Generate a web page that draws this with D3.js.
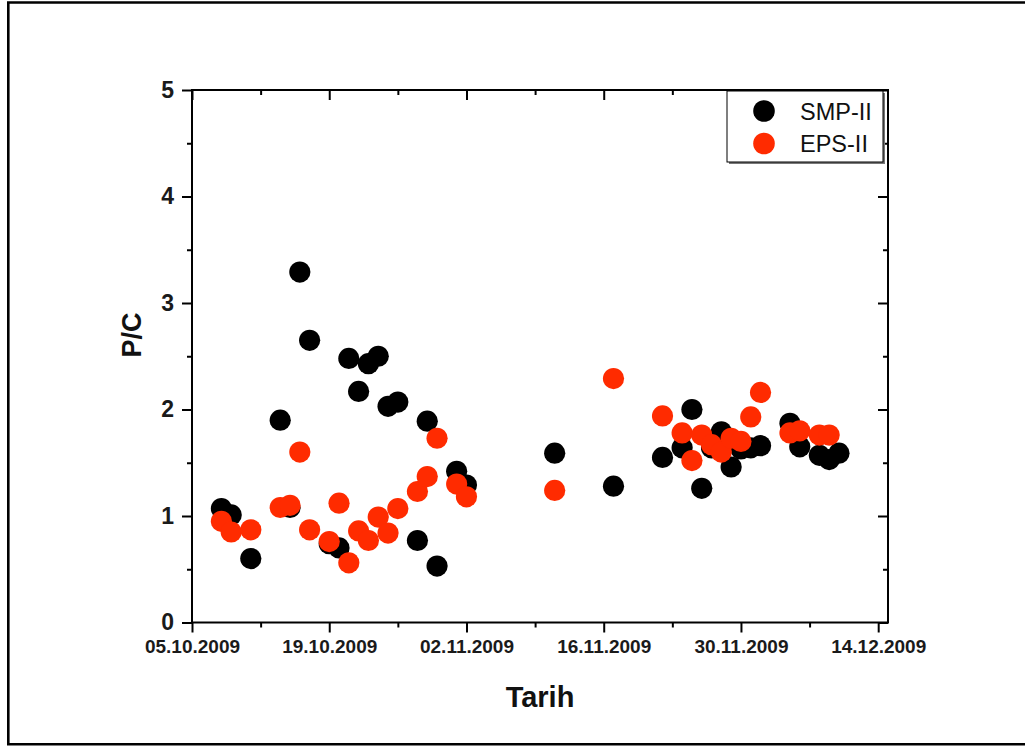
<!DOCTYPE html>
<html>
<head>
<meta charset="utf-8">
<script src="https://cdn.jsdelivr.net/npm/d3@7"></script>
<style>
  body { margin: 0; background: #fff; }
  svg { display: block; font-family: "Liberation Sans", Arial, sans-serif; }
</style>
</head>
<body>
<div id="graphic"></div>
<script>
// sampling dates (dd.mm.yyyy) and P/C ratios
const dates = ["08.10.2009", "09.10.2009", "11.10.2009", "14.10.2009", "15.10.2009", "16.10.2009", "17.10.2009",
  "19.10.2009", "20.10.2009", "21.10.2009", "22.10.2009", "23.10.2009", "24.10.2009", "25.10.2009", "26.10.2009",
  "28.10.2009", "29.10.2009", "30.10.2009", "01.11.2009", "02.11.2009", "11.11.2009", "17.11.2009", "22.11.2009",
  "24.11.2009", "25.11.2009", "26.11.2009", "27.11.2009", "28.11.2009", "29.11.2009", "30.11.2009", "01.12.2009",
  "02.12.2009", "05.12.2009", "06.12.2009", "08.12.2009", "09.12.2009", "10.12.2009"];

const smp = [1.07, 1.01, 0.60, 1.90, 1.08, 3.29, 2.65,
  0.74, 0.70, 2.48, 2.17, 2.43, 2.50, 2.03, 2.07,
  0.77, 1.89, 0.53, 1.42, 1.29, 1.59, 1.28, 1.55,
  1.64, 2.00, 1.26, 1.64, 1.79, 1.46, 1.63, 1.64,
  1.66, 1.87, 1.65, 1.57, 1.53, 1.59];

const eps = [0.95, 0.85, 0.87, 1.08, 1.10, 1.60, 0.87,
  0.76, 1.12, 0.56, 0.86, 0.77, 0.99, 0.84, 1.07,
  1.23, 1.37, 1.73, 1.30, 1.18, 1.24, 2.29, 1.94,
  1.78, 1.52, 1.76, 1.67, 1.60, 1.73, 1.70, 1.93,
  2.16, 1.78, 1.80, 1.76, 1.76, null];

const seriesNames = ["SMP-II", "EPS-II"];
const seriesColours = ["#000000", "#ff2b00"];

const xTickLabels = ["05.10.2009", "19.10.2009", "02.11.2009", "16.11.2009", "30.11.2009", "14.12.2009"];
const xDomain = ["05.10.2009", "15.12.2009"];
const yTicks = [0, 1, 2, 3, 4, 5];
const yMinorTicks = [0.5, 1.5, 2.5, 3.5, 4.5];

const parse = d3.timeParse("%d.%m.%Y");

const width = 1025, height = 746;
const margin = { left: 192, right: 137, top: 90, bottom: 123.5 };

const svg = d3.select("#graphic").append("svg")
  .attr("width", width)
  .attr("height", height);

// outer frame (right edge is cut off in the original)
svg.append("path")
  .attr("d", "M1030,2.5 H8.3 V744.3 H1030")
  .attr("fill", "none")
  .attr("stroke", "#000")
  .attr("stroke-width", 2.6);

const x = d3.scaleTime()
  .domain(xDomain.map(parse))
  .range([margin.left, width - margin.right]);

const y = d3.scaleLinear()
  .domain([0, 5])
  .range([height - margin.bottom, margin.top]);

const majorX = xTickLabels.map(parse);
const minorX = majorX.map(d => d3.timeDay.offset(d, 7)).filter(d => d < x.domain()[1]);

const fmt = d3.timeFormat("%d.%m.%Y");

// bottom axis, ticks outward
svg.append("g")
  .attr("transform", "translate(0," + y(0) + ")")
  .call(d3.axisBottom(x).tickValues(majorX).tickSize(10).tickPadding(7).tickFormat(fmt))
  .call(g => g.select(".domain").remove())
  .call(g => g.selectAll("text").attr("font-size", 19).attr("font-weight", "bold").attr("fill", "#1a1a1a").attr("font-family", "Liberation Sans, Arial, sans-serif"));

svg.append("g")
  .attr("transform", "translate(0," + y(0) + ")")
  .call(d3.axisBottom(x).tickValues(minorX).tickSize(5).tickFormat(""))
  .call(g => g.select(".domain").remove());

// top axis, ticks inward
svg.append("g")
  .attr("transform", "translate(0," + y(5) + ")")
  .call(d3.axisBottom(x).tickValues(majorX).tickSize(10).tickFormat(""))
  .call(g => g.select(".domain").remove());

svg.append("g")
  .attr("transform", "translate(0," + y(5) + ")")
  .call(d3.axisBottom(x).tickValues(minorX).tickSize(5).tickFormat(""))
  .call(g => g.select(".domain").remove());

// left axis, ticks outward
svg.append("g")
  .attr("transform", "translate(" + x.range()[0] + ",0)")
  .call(d3.axisLeft(y).tickValues(yTicks).tickSize(10).tickPadding(8).tickFormat(d3.format("d")))
  .call(g => g.select(".domain").remove())
  .call(g => g.selectAll("text").attr("font-size", 23).attr("font-weight", "bold").attr("fill", "#1a1a1a").attr("font-family", "Liberation Sans, Arial, sans-serif"));

svg.append("g")
  .attr("transform", "translate(" + x.range()[0] + ",0)")
  .call(d3.axisLeft(y).tickValues(yMinorTicks).tickSize(5).tickFormat(""))
  .call(g => g.select(".domain").remove());

// right axis, ticks inward
svg.append("g")
  .attr("transform", "translate(" + x.range()[1] + ",0)")
  .call(d3.axisRight(y).tickValues(yTicks).tickSize(-10).tickFormat(""))
  .call(g => g.select(".domain").remove());

svg.append("g")
  .attr("transform", "translate(" + x.range()[1] + ",0)")
  .call(d3.axisRight(y).tickValues(yMinorTicks).tickSize(-5).tickFormat(""))
  .call(g => g.select(".domain").remove());

svg.selectAll(".tick line").attr("stroke", "#000").attr("stroke-width", 2);

// plot frame
svg.append("rect")
  .attr("x", x.range()[0])
  .attr("y", y(5))
  .attr("width", x.range()[1] - x.range()[0])
  .attr("height", y(0) - y(5))
  .attr("fill", "none")
  .attr("stroke", "#000")
  .attr("stroke-width", 2);

// points, black first then red on top
const series = [smp, eps];
series.forEach(function (vals, i) {
  svg.append("g")
    .selectAll("circle")
    .data(dates.map((d, j) => ({ date: parse(d), value: vals[j] })).filter(d => d.value != null))
    .join("circle")
    .attr("cx", d => x(d.date))
    .attr("cy", d => y(d.value))
    .attr("r", 10.6)
    .attr("fill", seriesColours[i]);
});

// axis titles
svg.append("text")
  .attr("x", (x.range()[0] + x.range()[1]) / 2)
  .attr("y", 706.5)
  .attr("text-anchor", "middle")
  .attr("font-size", 29)
  .attr("font-weight", "bold")
  .attr("fill", "#111")
  .text("Tarih");

svg.append("text")
  .attr("transform", "translate(140.5,335) rotate(-90)")
  .attr("text-anchor", "middle")
  .attr("font-size", 27)
  .attr("font-weight", "bold")
  .attr("fill", "#111")
  .text("P/C");

// legend with drop shadow
const legend = svg.append("g");

legend.append("rect")
  .attr("x", 729).attr("y", 93)
  .attr("width", 156).attr("height", 71)
  .attr("fill", "#777");

legend.append("rect")
  .attr("x", 727).attr("y", 91)
  .attr("width", 156).attr("height", 71)
  .attr("fill", "#fff")
  .attr("stroke", "#000")
  .attr("stroke-width", 1);

const items = legend.selectAll("g.item")
  .data(seriesNames)
  .join("g")
  .attr("class", "item")
  .attr("transform", (d, i) => "translate(764," + (111 + i * 32.5) + ")");

items.append("circle")
  .attr("r", 10.8)
  .attr("fill", (d, i) => seriesColours[i]);

items.append("text")
  .attr("x", 36)
  .attr("y", 8.5)
  .attr("font-size", 23.5)
  .attr("fill", "#111")
  .text(d => d);
</script>
</body>
</html>
